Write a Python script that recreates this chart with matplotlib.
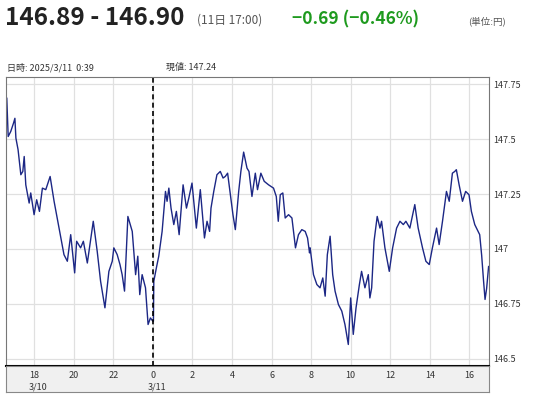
import matplotlib
matplotlib.use("Agg")
import matplotlib.pyplot as plt

plt.rcParams['font.family'] = ['Noto Sans CJK JP', 'DejaVu Sans']

hours = [-7.38,-7.31,-7.18,-7.04,-6.97,-6.92,-6.81,-6.67,-6.57,-6.50,-6.42,-6.25,-6.17,-6.00,-5.87,-5.73,-5.58,-5.41,-5.19,-4.99,
         -4.74,-4.49,-4.32,-4.15,-3.95,-3.85,-3.65,-3.51,-3.31,-3.01,-2.81,-2.64,-2.42,-2.22,-2.05,-1.97,-1.80,-1.66,-1.55,-1.43,
         -1.26,-1.04,-0.87,-0.76,-0.66,-0.54,-0.37,-0.24,-0.12,0.0,
         0.03,0.05,0.18,0.30,0.47,0.64,0.72,0.81,0.92,1.06,1.19,1.33,1.53,1.70,1.82,1.98,2.20,2.40,2.61,2.74,2.87,2.94,3.08,3.24,
         3.41,3.55,3.66,3.78,3.92,4.05,4.17,4.34,4.45,4.59,4.76,4.86,5.01,5.18,5.29,5.46,5.63,5.85,6.10,6.24,6.34,6.44,6.57,6.69,
         6.86,7.03,7.21,7.36,7.53,7.70,7.82,7.92,
         7.95,8.12,8.29,8.45,8.59,8.71,8.82,8.96,9.09,9.21,9.38,9.55,9.71,9.88,10.00,10.13,10.27,10.44,10.55,10.72,10.89,10.97,
         11.06,11.18,11.34,11.48,11.56,11.73,11.95,12.12,12.32,12.49,12.66,12.79,12.99,13.24,13.41,13.63,13.80,13.97,14.13,14.34,
         14.47,14.64,14.84,14.98,15.14,15.26,15.34,15.48,15.65,15.81,15.98,16.10,16.27,16.44,16.52,
         16.62,16.71,16.79,16.87,16.97]
prices = [147.686,147.512,147.535,147.573,147.595,147.505,147.452,147.338,147.353,147.421,147.292,147.209,147.255,147.156,147.224,
          147.171,147.277,147.270,147.330,147.217,147.095,146.974,146.944,147.065,146.891,147.035,147.005,147.035,146.936,147.126,
          146.989,146.853,146.732,146.898,146.944,147.005,146.974,146.929,146.883,146.808,147.148,147.080,146.883,146.967,146.792,
          146.883,146.823,146.656,146.686,146.671,
          146.671,146.853,146.914,146.967,147.080,147.262,147.217,147.277,147.186,147.111,147.171,147.065,147.292,147.186,147.232,
          147.300,147.095,147.270,147.050,147.126,147.080,147.186,147.262,147.338,147.353,147.323,147.330,147.345,147.247,147.156,
          147.088,147.262,147.353,147.441,147.368,147.353,147.239,147.345,147.270,147.345,147.308,147.292,147.277,147.239,147.126,
          147.247,147.255,147.141,147.156,147.141,147.005,147.065,147.088,147.080,147.050,146.982,
          147.005,146.883,146.838,146.823,146.868,146.785,146.974,147.058,146.883,146.808,146.747,146.717,146.656,146.565,146.777,
          146.611,146.732,146.838,146.898,146.823,146.883,146.777,146.823,147.035,147.148,147.095,147.126,147.005,146.898,147.005,
          147.095,147.126,147.111,147.126,147.095,147.202,147.095,147.005,146.944,146.929,147.005,147.095,147.020,147.126,147.262,
          147.217,147.345,147.353,147.361,147.292,147.217,147.262,147.247,147.171,147.111,147.080,147.065,
          146.97,146.86,146.77,146.82,146.92]

xticks = [-6, -4, -2, 0, 2, 4, 6, 8, 10, 12, 14, 16]
xticklabels = ["18", "20", "22", "0", "2", "4", "6", "8", "10", "12", "14", "16"]
date_labels = [(-6, "3/10"), (0, "3/11")]
yticks = [146.5, 146.75, 147.0, 147.25, 147.5, 147.75]
yticklabels = ["146.5", "146.75", "147", "147.25", "147.5", "147.75"]

W, H = 540, 400
fig = plt.figure(figsize=(5.4, 4.0), dpi=100)
fig.patch.set_facecolor("white")

def fx(px): return px / W
def fy(py): return 1 - py / H

xl = (-7.42, 16.99)
ax = fig.add_axes([fx(6), fy(366), fx(489) - fx(6), fy(77) - fy(366)])
ax.plot(hours, prices, color="#1c2785", lw=1.0)
ax.set_xlim(*xl)
ax.set_ylim(146.467, 147.783)
ax.set_xticks(xticks)
ax.set_yticks(yticks)
ax.grid(True, color="#e0e0e0", lw=0.9)
ax.set_axisbelow(True)
ax.tick_params(axis="x", length=0, labelbottom=False)
ax.yaxis.tick_right()
ax.set_yticklabels(yticklabels)
ax.tick_params(axis="y", length=0, labelsize=6.5, pad=3, labelcolor="#333333")
ax.axvline(0, color="black", ls=(0, (3, 2)), lw=1.2)
for s in ["left", "right", "top"]:
    ax.spines[s].set_color("#777777")
ax.spines["bottom"].set_color("black")
ax.spines["bottom"].set_linewidth(1.5)

bx = fig.add_axes([fx(6), fy(392), fx(489) - fx(6), fy(366) - fy(392)])
bx.set_facecolor("#f0f0f0")
bx.set_xlim(*xl)
bx.set_ylim(0, 1)
bx.set_xticks([]); bx.set_yticks([])
for s in bx.spines.values():
    s.set_color("#888888")
for t, lab in zip(xticks, xticklabels):
    bx.text(t, 0.62, lab, ha="center", va="center", fontsize=6.5, color="#333333")
for t, lab in date_labels:
    bx.text(t - 0.25, 0.2, lab, ha="left", va="center", fontsize=6.5, color="#333333")

fig.text(fx(5), fy(25), "146.89 - 146.90", fontsize=17.5, fontweight="bold", color="#222222", va="baseline")
fig.text(fx(197), fy(24), "(11日 17:00)", fontsize=8.5, color="#555555", va="baseline")
fig.text(fx(292), fy(24), "−0.69 (−0.46%)", fontsize=12.5, fontweight="bold", color="#1e9a1e", va="baseline")
fig.text(fx(468), fy(24), "(単位:円)", fontsize=6.8, color="#555555", va="baseline")
fig.text(fx(7), fy(70), "日時: 2025/3/11  0:39", fontsize=6.5, color="#333333", va="baseline")
fig.text(fx(166), fy(70), "現値: 147.24", fontsize=6.5, color="#333333", va="baseline")

fig.savefig("out.png", dpi=100)
